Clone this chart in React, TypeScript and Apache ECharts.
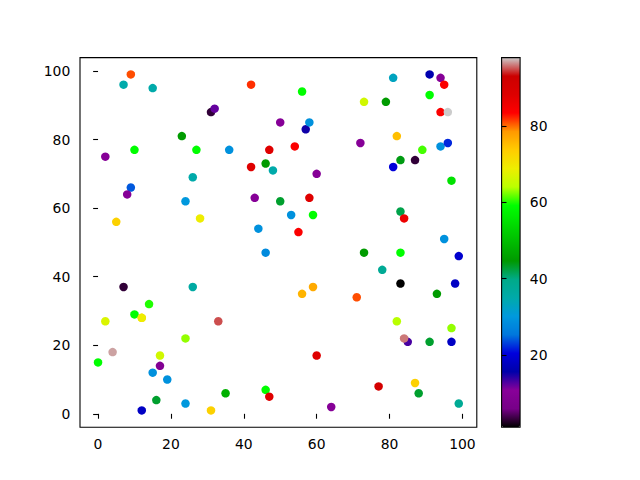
import React, { useEffect, useRef } from "react";
import * as echarts from "echarts";

const xValues = [
  7, 26, 14, 10, 2, 12, 12, 33, 24, 4, 0, 17, 17, 15, 19, 16, 24, 12, 31,
  46, 56, 59, 60, 35, 46, 47, 64,
  95, 73, 83, 99, 78, 83, 98, 93, 71, 82, 97, 85, 84, 91, 97, 77, 87, 88, 99,
  9, 7, 15, 31, 32, 23, 10, 27, 2, 26, 9, 8, 24, 5, 28,
  42, 56, 50, 57, 58, 36, 47, 54, 42, 46, 48, 60, 43, 50, 58, 53, 59, 44, 55,
  81, 91, 94, 95, 73, 79, 91, 94, 96, 82, 72, 94, 96, 89, 83, 87, 81, 97, 83, 84,
];
const yValues = [
  37, 37, 32, 29, 27, 28, 28, 27, 22, 18, 15, 17, 14, 12, 10, 4, 3, 1, 1,
  47, 35, 37, 17, 6, 7, 5, 2,
  51, 47, 47, 46, 42, 38, 38, 35, 34, 27, 25, 21, 22, 21, 21, 8, 9, 6, 3,
  99, 96, 95, 88, 89, 81, 77, 77, 75, 69, 66, 64, 62, 56, 57,
  96, 94, 85, 83, 85, 77, 77, 78, 72, 73, 71, 70, 63, 62, 63, 58, 58, 54, 53,
  98, 99, 98, 96, 91, 91, 93, 88, 88, 81, 79, 78, 79, 77, 74, 74, 72, 68, 59, 57,
];
const cValues = [
  3, 36, 60, 59, 67, 74, 69, 95, 63, 97, 59, 66, 9, 29, 29, 43, 30, 18, 73,
  28, 76, 77, 88, 48, 59, 88, 10,
  29, 45, 59, 19, 38, 1, 18, 45, 81, 64, 63, 13, 96, 43, 18, 91, 73, 43, 38,
  81, 35, 35, 3, 12, 45, 59, 59, 10, 35, 24, 10, 30, 73, 69,
  82, 59, 10, 15, 29, 29, 88, 84, 88, 45, 35, 10, 10, 43, 88, 29, 59, 29, 84,
  33, 16, 10, 84, 66, 45, 59, 84, 98, 75, 10, 29, 22, 61, 44, 3, 20, 55, 42, 86,
];
const xTicks = [0, 20, 40, 60, 80, 100];
const yTicks = [0, 20, 40, 60, 80, 100];
const cbTicks = [20, 40, 60, 80];

const nipySpectral = [
  "#000000", "#770088", "#880099", "#0000aa", "#0000dd", "#0077dd", "#0099dd",
  "#00aaaa", "#00aa88", "#009900", "#00bb00", "#00dd00", "#00ff00", "#bbff00",
  "#eeee00", "#ffcc00", "#ff9900", "#ff0000", "#dd0000", "#cc0000", "#cccccc",
];

export default function App() {
  const ref = useRef<HTMLDivElement>(null);
  useEffect(() => {
    if (!ref.current) return;
    const chart = echarts.init(ref.current, undefined, { renderer: "svg" });
    const data = xValues.map((x, i) => [x, yValues[i], cValues[i]]);
    const cMin = Math.min(...cValues);
    const cMax = Math.max(...cValues);
    const font = { fontFamily: "DejaVu Sans", fontSize: 13.9, color: "#000" };
    const tick = { show: true, inside: false, length: 4.9, lineStyle: { color: "#000", width: 1.1 } };
    chart.setOption({
      animation: false,
      backgroundColor: "#fff",
      grid: [
        { left: 80, top: 57.6, width: 396.8, height: 369.6, show: true, borderColor: "#000", borderWidth: 1.1, backgroundColor: "transparent" },
        { left: 501.6, top: 57.6, width: 18.5, height: 369.6, show: true, borderColor: "#000", borderWidth: 1.1, backgroundColor: "transparent", z: 10 },
      ],
      xAxis: [
        {
          type: "value", gridIndex: 0, min: -4.95, max: 103.95,
          axisLine: { show: false }, splitLine: { show: false },
          axisTick: { ...tick, customValues: xTicks },
          axisLabel: { ...font, margin: 9.7, customValues: xTicks },
        },
        { type: "value", gridIndex: 1, min: 0, max: 1, show: false },
      ],
      yAxis: [
        {
          type: "value", gridIndex: 0, min: -3.9, max: 103.9,
          axisLine: { show: false }, splitLine: { show: false },
          axisTick: { ...tick, customValues: yTicks },
          axisLabel: { ...font, margin: 9.7, customValues: yTicks },
        },
        {
          type: "value", gridIndex: 1, min: cMin, max: cMax, position: "right",
          axisLine: { show: false }, splitLine: { show: false },
          axisTick: { ...tick, customValues: cbTicks },
          axisLabel: { ...font, margin: 9.7, customValues: cbTicks },
          z: 10,
        },
      ],
      visualMap: {
        type: "continuous",
        min: cMin,
        max: cMax,
        dimension: 2,
        seriesIndex: 0,
        calculable: false,
        hoverLink: false,
        left: 501.6,
        top: 57.6,
        itemWidth: 18.5,
        itemHeight: 369.6,
        padding: 0,
        text: null,
        showLabel: false,
        inRange: { color: nipySpectral },
      },
      series: [
        {
          type: "scatter",
          xAxisIndex: 0,
          yAxisIndex: 0,
          data,
          symbol: "circle",
          symbolSize: 8.5,
          itemStyle: { opacity: 1, borderWidth: 0 },
        },
      ],
    });
    return () => chart.dispose();
  }, []);
  return <div ref={ref} style={{ position: "absolute", left: 0, top: 0, width: 640, height: 480 }} />;
}
